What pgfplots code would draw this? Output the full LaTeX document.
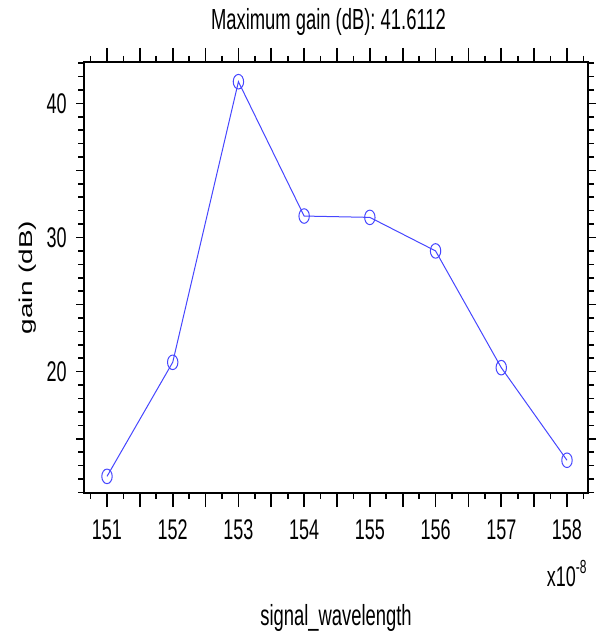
\documentclass[border=0pt]{standalone}
\usepackage{fontspec}
\setmainfont{Liberation Sans}
\usepackage{graphicx}
\usepackage{pgfplots}
\pgfplotsset{compat=1.18}
\definecolor{lineblue}{RGB}{70,70,255}
\newcommand\st[1]{\scalebox{1}[1.58]{#1}}
\begin{document}
\begin{tikzpicture}
\pgfplotsset{
  common/.style={
    scale only axis, width=252pt, height=215.5pt,
    xmin=150.65, xmax=158.32, ymin=10.96, ymax=43.08,
    axis line style={line width=0.8pt},
    tick style={line width=0.8pt, black},
    tick align=outside,
    xtick={151,151.5,...,158},
    minor xtick={150.75,151.25,...,158.25},
    ytick={15,20,...,40},
    minor ytick={11,...,43},
  }
}
% axis A: data, labels, y ticks
\begin{axis}[common,
  major tick length=4pt, minor tick length=2pt,
  every x tick/.append style={draw=none},
  every minor x tick/.append style={draw=none},
  every major x tick/.append style={draw=none},
  xticklabels={\st{151},{},\st{152},{},\st{153},{},\st{154},{},\st{155},{},\st{156},{},\st{157},{},\st{158}},
  yticklabels={{},\st{20},{},\st{30},{},\st{40}},
  tick label style={font=\fontsize{9}{10}\selectfont},
  xticklabel style={anchor=center, yshift=-14.5pt, inner sep=0pt},
  yticklabel style={anchor=east, inner sep=0pt, xshift=-4.5pt},
  title={\st{Maximum gain (dB): 41.6112}},
  title style={at={(axis description cs:0.485,1)}, anchor=center, yshift=14pt, inner sep=0pt, font=\fontsize{9.2}{10}\selectfont},
  xlabel={\st{signal\_wavelength}},
  xlabel style={at={(axis description cs:0.5,0)}, anchor=base, yshift=-66pt, inner sep=0pt, font=\fontsize{9.2}{10}\selectfont},
  ylabel={\scalebox{1.5}[1]{gain (dB)}},
  ylabel style={at={(axis description cs:-0.111,0.5)}, anchor=center, inner sep=0pt, font=\fontsize{9.3}{10}\selectfont},
  clip=false,
]
\addplot[color=lineblue, line width=0.5pt, mark=o, mark size=2.6pt, mark options={yscale=1.4, solid}]
  coordinates {(151,12.2) (152,20.7) (153,41.6112) (154,31.6) (155,31.5) (156,29.0) (157,20.3) (158,13.4)};
\node[anchor=base east, inner sep=0pt, font=\fontsize{9}{10}\selectfont] at (rel axis cs:1,0) [yshift=-46.5pt] {\st{x10\textsuperscript{-8}}};
\end{axis}
% axis B: x ticks only (longer)
\begin{axis}[common,
  major tick length=7pt, minor tick length=3pt,
  ymajorticks=false, yminorticks=false,
  xticklabels={},
]
\end{axis}
\pgfresetboundingbox
\path ([xshift=-42pt,yshift=-70.5pt]current axis.south west) rectangle ([xshift=5.5pt,yshift=31pt]current axis.north east);
\end{tikzpicture}
\end{document}
